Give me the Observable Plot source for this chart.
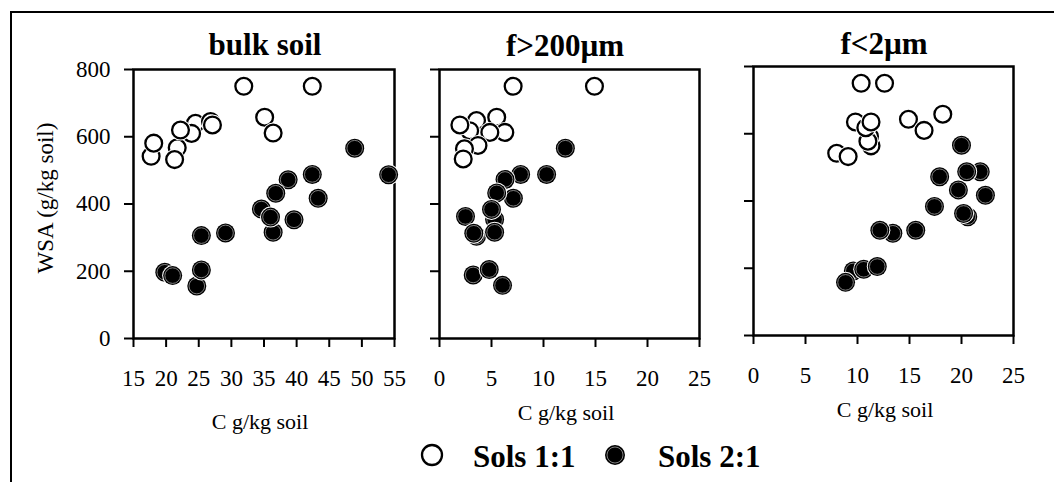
<!DOCTYPE html>
<html><head><meta charset="utf-8">
<script src="https://cdn.jsdelivr.net/npm/d3@7"></script>
<script src="https://cdn.jsdelivr.net/npm/@observablehq/plot@0.6"></script>
<style>
body{margin:0;background:#fff;}
#chart{position:relative;width:1054px;height:482px;overflow:hidden;font-family:"Liberation Serif",serif;color:#000;}
.abs{position:absolute;white-space:nowrap;}
.border{position:absolute;left:10px;top:11px;width:1100px;height:500px;border-top:2px solid #000;border-left:2px solid #000;}
svg.plot{position:absolute;overflow:visible;}
</style></head><body><div id="chart"><div class="border"></div></div>
<script>
// ---- data (C g/kg soil, WSA g/kg soil), in drawing order ----
const titles = ["bulk soil", "f>200µm", "f<2µm"];
const xTitle = "C g/kg soil";
const yTitle = "WSA (g/kg soil)";
const legendLabels = ["Sols 1:1", "Sols 2:1"];
const yTicks = [0, 200, 400, 600, 800];
const bulkTicks = [15, 20, 25, 30, 35, 40, 45, 50, 55];
const fracTicks = [0, 5, 10, 15, 20, 25];

const bulkOpenC   = [17.7, 18.1, 21.7, 21.3, 24.5, 23.9, 22.2, 26.8, 27.1, 31.9, 42.4, 35.1, 36.4];
const bulkOpenWSA = [542, 581, 567, 532, 640, 610, 620, 645, 635, 750, 750, 658, 611];
const bulkFillC   = [48.9, 54.1, 42.4, 38.7, 43.3, 36.8, 36.4, 34.6, 36.0, 39.6, 25.4, 29.1, 19.8, 21.0, 24.7, 25.4];
const bulkFillWSA = [566, 487, 488, 472, 417, 432, 316, 385, 361, 353, 306, 314, 197, 187, 156, 204];

const coarseOpenC   = [3.56, 2.9, 1.96, 5.5, 6.28, 4.84, 3.7, 2.4, 2.28, 7.08, 14.9];
const coarseOpenWSA = [648, 618, 635, 658, 613, 613, 574, 564, 534, 750, 750];
const coarseFillC   = [12.1, 10.3, 7.8, 6.3, 7.1, 5.5, 5.3, 5.0, 2.5, 3.56, 3.3, 5.3, 3.24, 4.78, 6.06];
const coarseFillWSA = [566, 488, 488, 473, 417, 433, 354, 384, 363, 304, 313, 316, 189, 205, 158];

const clayOpenC   = [11.3, 11.15, 11.0, 9.8, 10.8, 11.3, 8.0, 9.1, 14.9, 16.4, 18.2, 10.35, 12.6];
const clayOpenWSA = [564, 592, 578, 635, 618, 635, 542, 532, 643, 610, 658, 750, 750];
const clayFillC   = [20.0, 21.8, 20.5, 17.9, 19.7, 22.3, 17.4, 20.6, 20.2, 13.4, 12.15, 15.6, 9.6, 10.6, 11.9, 8.85];
const clayFillWSA = [566, 487, 487, 472, 433, 417, 384, 353, 363, 304, 313, 313, 192, 197, 205, 158];

const chart = document.getElementById("chart");
const FONT = '"Liberation Serif", "Times New Roman", serif';

function rows(cs, ws) { return cs.map((c, i) => ({c, w: ws[i]})); }

function pointMarks(data, filled) {
  const out = [];
  for (const d of data) {
    out.push(Plot.dot([d], {x: "c", y: "w", r: 10.5, fill: "white", stroke: "none"}));
    if (filled) {
      out.push(Plot.dot([d], {x: "c", y: "w", r: 9.5, fill: "black", stroke: "none"}));
      out.push(Plot.dot([d], {x: "c", y: "w", r: 7.8, fill: "none", stroke: "#a0a0a0", strokeWidth: 0.8}));
    } else {
      out.push(Plot.dot([d], {x: "c", y: "w", r: 8.4, fill: "white", stroke: "black", strokeWidth: 2.3}));
    }
  }
  return out;
}

function panel({xDomain, xTicks, open, fill, showY, left, top, w, h}) {
  const mL = 80, mR = 20, mT = 20, mB = 60;
  const p = Plot.plot({
    width: mL + w + mR, height: mT + h + mB,
    marginLeft: mL, marginRight: mR, marginTop: mT, marginBottom: mB,
    x: {domain: xDomain},
    y: {domain: [0, 800]},
    style: {fontFamily: FONT, fontSize: "23px", color: "black", background: "transparent", overflow: "visible"},
    marks: [
      Plot.frame({stroke: "black", strokeWidth: 2.5}),
      Plot.axisX({ticks: xTicks, tickSize: 9, tickPadding: 22, strokeWidth: 2, label: null, fontSize: 23, tickFormat: d => String(d)}),
      Plot.axisY({ticks: yTicks, tickSize: 9, tickPadding: 14, strokeWidth: 2, label: null, fontSize: 23,
                  tickFormat: showY ? (d => String(d)) : (() => "")}),
      ...pointMarks(open, false),
      ...pointMarks(fill, true)
    ]
  });
  p.classList.add("plot");
  p.style.left = (left - mL) + "px";
  p.style.top = (top - mT) + "px";
  chart.appendChild(p);
}

panel({xDomain: [15, 55], xTicks: bulkTicks, open: rows(bulkOpenC, bulkOpenWSA), fill: rows(bulkFillC, bulkFillWSA), showY: true, left: 133, top: 69, w: 261, h: 269});
panel({xDomain: [0, 25], xTicks: fracTicks, open: rows(coarseOpenC, coarseOpenWSA), fill: rows(coarseFillC, coarseFillWSA), showY: false, left: 439, top: 69, w: 260, h: 269});
panel({xDomain: [0, 25], xTicks: fracTicks, open: rows(clayOpenC, clayOpenWSA), fill: rows(clayFillC, clayFillWSA), showY: false, left: 753, top: 66, w: 260, h: 269});

// text helper: baseline-positioned
function text(str, {cx, x, baseline, size, bold}) {
  const el = document.createElement("div");
  el.className = "abs";
  el.textContent = str;
  el.style.fontFamily = FONT;
  el.style.fontSize = size + "px";
  el.style.lineHeight = size + "px";
  el.style.fontWeight = bold ? "bold" : "normal";
  el.style.top = (baseline - 0.8375 * size) + "px";
  if (cx !== undefined) { el.style.left = cx + "px"; el.style.transform = "translateX(-50%)"; }
  else el.style.left = x + "px";
  chart.appendChild(el);
  return el;
}

text(titles[0], {cx: 265, baseline: 55, size: 31, bold: true});
text(titles[1], {cx: 565, baseline: 56, size: 31, bold: true});
text(titles[2], {cx: 884, baseline: 54, size: 31, bold: true});

text(xTitle, {cx: 260, baseline: 429, size: 22});
text(xTitle, {cx: 566, baseline: 420, size: 22});
text(xTitle, {cx: 885, baseline: 417, size: 22});

// y title rotated
{
  const el = document.createElement("div");
  el.className = "abs";
  el.textContent = yTitle;
  el.style.fontFamily = FONT;
  el.style.fontSize = "23px";
  el.style.lineHeight = "23px";
  el.style.left = "45px";
  el.style.top = "198px";
  el.style.transform = "translate(-50%,-50%) rotate(-90deg)";
  chart.appendChild(el);
}

// legend
{
  const ns = "http://www.w3.org/2000/svg";
  const s = document.createElementNS(ns, "svg");
  s.setAttribute("width", 1054); s.setAttribute("height", 482);
  s.style.position = "absolute"; s.style.left = "0"; s.style.top = "0";
  const c1 = document.createElementNS(ns, "circle");
  c1.setAttribute("cx", 432); c1.setAttribute("cy", 455); c1.setAttribute("r", 10);
  c1.setAttribute("fill", "white"); c1.setAttribute("stroke", "black"); c1.setAttribute("stroke-width", 2.3);
  const c2 = document.createElementNS(ns, "circle");
  c2.setAttribute("cx", 615); c2.setAttribute("cy", 455); c2.setAttribute("r", 10);
  c2.setAttribute("fill", "black");
  const c3 = document.createElementNS(ns, "circle");
  c3.setAttribute("cx", 615); c3.setAttribute("cy", 455); c3.setAttribute("r", 8);
  c3.setAttribute("fill", "none"); c3.setAttribute("stroke", "#a0a0a0"); c3.setAttribute("stroke-width", 0.8);
  s.append(c1, c2, c3);
  chart.appendChild(s);
}
text(legendLabels[0], {x: 473, baseline: 467, size: 31, bold: true});
text(legendLabels[1], {x: 658, baseline: 467, size: 31, bold: true});
</script></body></html>
